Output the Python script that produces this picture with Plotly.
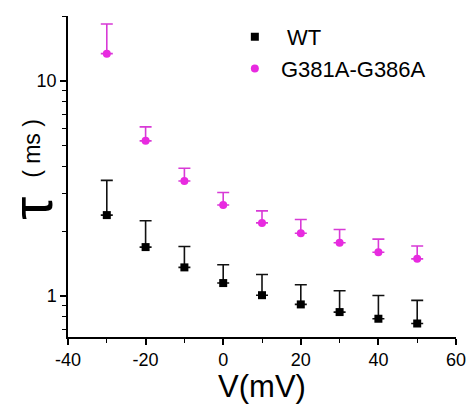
import plotly.graph_objects as go

voltage = [-30, -20, -10, 0, 10, 20, 30, 40, 50]
wt_tau = [2.38, 1.69, 1.36, 1.15, 1.01, 0.915, 0.843, 0.785, 0.746]
wt_err_top = [3.45, 2.24, 1.70, 1.40, 1.26, 1.13, 1.06, 1.007, 0.955]
mut_tau = [13.4, 5.27, 3.43, 2.65, 2.19, 1.96, 1.77, 1.60, 1.49]
mut_err_top = [18.4, 6.12, 3.93, 3.03, 2.49, 2.27, 2.04, 1.84, 1.71]
x_ticks = [-40, -20, 0, 20, 40, 60]
x_tick_labels = ["-40", "-20", "0", "20", "40", "60"]

wt_err = [t - v for t, v in zip(wt_err_top, wt_tau)]
mut_err = [t - v for t, v in zip(mut_err_top, mut_tau)]

BLACK = "#000000"
MAG = "#E82AE0"

fig = go.Figure()
fig.add_trace(go.Scatter(
    x=voltage, y=wt_tau, mode="markers", name="\u00a0\u00a0WT",
    legendgroup="a",
    marker=dict(symbol="square", size=8, color=BLACK),
    error_y=dict(type="data", symmetric=False, array=wt_err,
                 arrayminus=[0] * len(wt_err), color="#111111",
                 thickness=1.6, width=6),
))
fig.add_trace(go.Scatter(
    x=voltage, y=mut_tau, mode="markers", name="\u00a0G381A-G386A",
    legendgroup="b",
    marker=dict(symbol="circle", size=8, color=MAG),
    error_y=dict(type="data", symmetric=False, array=mut_err,
                 arrayminus=[0] * len(mut_err), color="#D83AD6",
                 thickness=1.6, width=6),
))

fig.update_layout(
    width=468, height=404,
    margin=dict(l=68, r=12, t=16, b=67),
    paper_bgcolor="white", plot_bgcolor="white",
    font=dict(family="Liberation Sans, Arial", color="black", size=18),
    showlegend=True,
    legend=dict(x=0.43, y=1.0, xanchor="left", yanchor="top",
                font=dict(size=22), bgcolor="rgba(0,0,0,0)",
                tracegroupgap=0, traceorder="grouped"),
    xaxis=dict(
        range=[-40, 60], tickvals=x_ticks, ticktext=x_tick_labels,
        ticks="outside", ticklen=6, tickwidth=1.5, tickcolor="black",
        showline=True, linecolor="black", linewidth=1.5,
        showgrid=False, zeroline=False, automargin=False,
        minor=dict(tickvals=[-30, -10, 10, 30, 50], ticks="outside",
                   ticklen=4, tickwidth=1.2, tickcolor="black"),
        tickfont=dict(size=18),
        title=dict(text="V(mV)", font=dict(size=31), standoff=7),
    ),
    yaxis=dict(
        type="log", range=[-0.19, 1.302],
        tickvals=[1, 10], ticktext=["1", "10"],
        ticks="outside", ticklen=6, tickwidth=1.5, tickcolor="black",
        showline=True, linecolor="black", linewidth=1.5,
        showgrid=False, zeroline=False, automargin=False,
        minor=dict(tickvals=[0.7, 0.8, 0.9, 2, 3, 4, 5, 6, 7, 8, 9, 20],
                   ticks="outside", ticklen=4, tickwidth=1.2, tickcolor="black"),
        tickfont=dict(size=18),
    ),
    annotations=[
        dict(text="τ", xref="paper", yref="paper", x=-0.095, y=0.40,
             xanchor="center", yanchor="middle",
             showarrow=False, textangle=-90,
             font=dict(size=58, family="Liberation Sans, Arial")),
        dict(text="( ms )", xref="paper", yref="paper", x=-0.093, y=0.589,
             xanchor="center", yanchor="middle",
             showarrow=False, textangle=-90, font=dict(size=23)),
    ],
)

fig.write_html("out.html")
